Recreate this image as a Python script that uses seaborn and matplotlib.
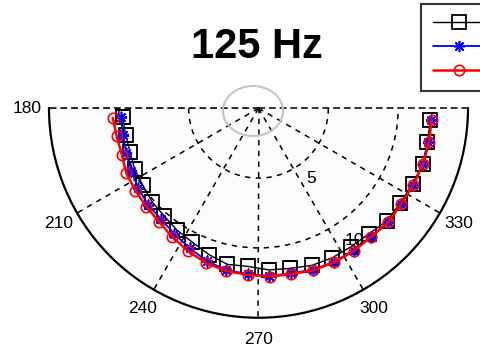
import numpy as np
import matplotlib
matplotlib.use('Agg')
import matplotlib.pyplot as plt
from matplotlib.patches import Ellipse
import seaborn as sns

angle_deg = [183.75, 191.25, 198.75, 206.25, 213.75, 221.25, 228.75, 236.25,
             243.75, 251.25, 258.75, 266.25, 273.75, 281.25, 288.75, 296.25,
             303.75, 311.25, 318.75, 326.25, 333.75, 341.25, 348.75, 356.25]
black_db = [9.75, 9.70, 9.72, 9.88, 9.95, 10.15, 10.25, 10.50,
            10.70, 11.06, 11.40, 11.35, 11.60, 11.69, 11.88, 11.94,
            11.92, 11.97, 12.23, 12.20, 12.30, 12.42, 12.33, 12.34]
blue_db = [9.85, 9.90, 10.00, 10.15, 10.34, 10.50, 10.57, 10.83,
           11.16, 11.55, 11.80, 11.90, 12.02, 12.05, 12.20, 12.25,
           12.25, 12.22, 12.35, 12.28, 12.35, 12.42, 12.40, 12.40]
red_db = [10.45, 10.35, 10.33, 10.55, 10.60, 10.68, 10.80, 11.10,
          11.40, 11.70, 11.88, 11.95, 12.08, 12.10, 12.25, 12.30,
          12.28, 12.24, 12.38, 12.30, 12.37, 12.45, 12.45, 12.42]

theta_ticks = [180, 210, 240, 270, 300, 330]
ring_levels = [5, 10]

sns.set_style('white')
plt.rcParams['font.family'] = ['Liberation Sans', 'DejaVu Sans']
plt.rcParams['text.color'] = 'black'
plt.rcParams['xtick.color'] = 'black'
plt.rcParams['ytick.color'] = 'black'

fig = plt.figure(figsize=(4.8, 3.53), dpi=100)
# polar axes sized for the full circle; only the lower half is shown
ax = fig.add_axes([49 / 480, (353 - 422.5) / 353, 419 / 480, 419 / 353],
                  projection='polar')
ax.set_facecolor('#fcfcfc')

theta = np.deg2rad(angle_deg)

sns.lineplot(x=theta, y=black_db, ax=ax, sort=False, color='black', lw=1.0,
             marker='s', markersize=9.5, mfc='none', mec='black', mew=1.3)
sns.lineplot(x=theta, y=blue_db, ax=ax, sort=False, color='blue', lw=1.3,
             marker=(8, 2, 0), markersize=8, mec='blue', mew=1.2)
sns.lineplot(x=theta, y=red_db, ax=ax, sort=False, color='red', lw=1.8,
             marker='o', markersize=7.5, mfc='none', mec='red', mew=1.2)

ax.set_thetamin(180)
ax.set_thetamax(360)
ax.set_rlim(0, 15)
ax.set_xlabel('')
ax.set_ylabel('')

ax.set_thetagrids(theta_ticks, labels=[str(t) for t in theta_ticks], fontsize=12.5)
ax.tick_params(axis='x', pad=5, labelcolor='black')
ax.set_rgrids(ring_levels, labels=['', ''])
ax.grid(True, color='black', linestyle=(0, (3.5, 3.5)), linewidth=1.1)

ax.spines['polar'].set_linewidth(1.6)
ax.spines['polar'].set_color('black')
for side in ['start', 'end']:
    ax.spines[side].set_linestyle((0, (3.5, 3.5)))
    ax.spines[side].set_linewidth(1.1)
    ax.spines[side].set_color('black')

# ring values
ax.text(np.deg2rad(307), 6.3, '5', fontsize=12.5, ha='center', va='center',
        color='black')
ax.text(np.deg2rad(306), 11.7, '10', fontsize=12.5, ha='center', va='center',
        color='black')

# gray outline near the centre
fig.patches.append(Ellipse((253 / 480, 1 - 111 / 353), 60 / 480, 50 / 353,
                           transform=fig.transFigure, fill=False,
                           edgecolor='#c4c4c4', lw=1.5))

fig.text(257 / 480, 1 - 47 / 353, '125 Hz', ha='center', va='center',
         fontsize=30, fontweight='bold', color='black')

# legend labels lie beyond the right edge in the reference
leg = ax.legend(handles=ax.lines[:3], labels=['', '', ''],
                loc='upper left', bbox_to_anchor=(421 / 480, 1 - 4 / 353),
                bbox_transform=fig.transFigure, fontsize=12, frameon=True,
                fancybox=False, handlelength=3.2, borderpad=0.7,
                labelspacing=0.55, borderaxespad=0)
leg.get_frame().set_edgecolor('black')
leg.get_frame().set_linewidth(1.5)

fig.savefig('out.png', dpi=100)
